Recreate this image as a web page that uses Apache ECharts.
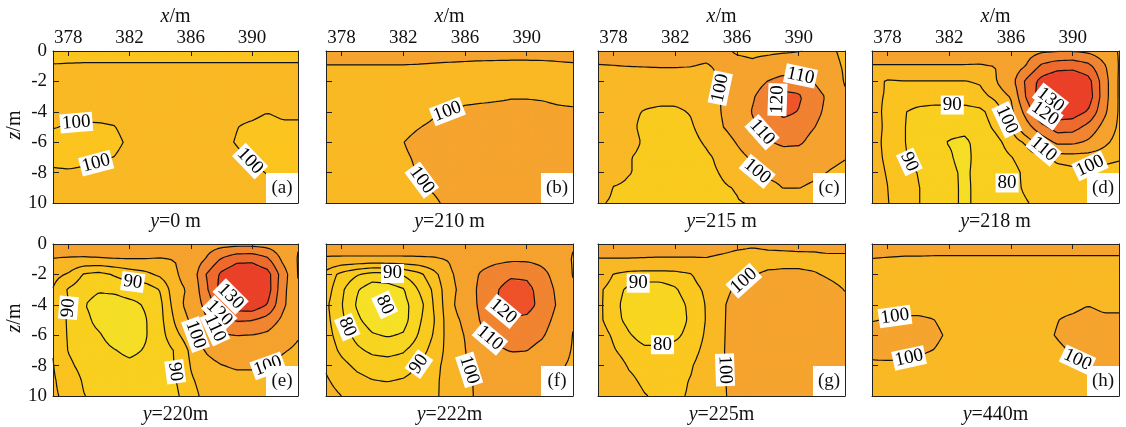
<!DOCTYPE html>
<html><head><meta charset="utf-8">
<script src="https://cdn.jsdelivr.net/npm/echarts@6/dist/echarts.min.js"></script>
<style>html,body{margin:0;padding:0;background:#fff;overflow:hidden}#chart{width:1126px;height:427px}</style>
</head><body><div id="chart"></div>
<script>
// ---------------- data (node grid: x = 377..393 step 1, z = 0..-10 step 1) ----------------
const X_NODES = [377,378,379,380,381,382,383,384,385,386,387,388,389,390,391,392,393];
const Z_NODES = [0,-1,-2,-3,-4,-5,-6,-7,-8,-9,-10];
const TICKS_X = [378,382,386,390];

const fieldA = [
[98,98,98,98,98,98,98,98,98,98,98,98,98,98,98,98,98],
[100.35,100.5,100.6,100.6,100.6,100.6,100.6,100.6,100.6,100.6,100.6,100.6,100.6,100.6,100.6,100.6,100.6],
[101,101,101,101,101,101,101,101,101,101,101,101,101,101,101,101,101],
[101,101,101,101,101,101,101,101,101,101,101,101,101,101,101,101,101],
[101,101,101,101,101,101,101,101,101,101,101,101,101,101,100.1,100.9,100.9],
[100.2,99.7,99.5,99.6,99.9,101,101,101,101,101,101,101,100.1,99.3,98.5,99.2,99.2],
[98.5,98.5,98.5,99,99.3,100.5,101,101,101,101,101,100.8,99.8,98.8,98.5,98.5,98.5],
[99,99,99.3,99.6,100.05,101,101,101,101,101,101,101,100.6,99.7,99.0,98.8,98.8],
[100.5,100.3,100.5,100.8,101,101,101,101,101,101,101,101,101,100.5,99.9,99.4,99.2],
[101,101,101,101,101,101,101,101,101,101,101,101,101,101,100.6,100.2,99.9],
[101,101,101,101,101,101,101,101,101,101,101,101,101,101,101,100.6,100.3]];

const fieldB = [
[102,102,102,102,102,102,102,102,102,102,102,102,102,102,102,102,102],
[99.8,99.8,99.8,99.8,99.8,99.8,99.7,99.5,99.3,99.1,98.9,98.8,98.7,98.7,98.8,99.1,99.4],
[98.5,98.5,98.5,98.5,98.5,98.5,98.5,98.5,98.5,98.5,98.5,98.5,98.5,98.5,98.5,98.5,98.5],
[98.5,98.5,98.5,98.5,98.5,98.5,98.5,98.5,98.5,98.9,99.2,99.5,99.8,99.8,99.7,99.4,99.2],
[98.5,98.5,98.5,98.5,98.5,98.5,98.5,99.6,100.1,100.8,101,101,101,101,100.8,100.5,100.4],
[98.5,98.5,98.5,98.5,98.5,99.3,99.9,100.6,101.5,101.5,101.5,101.5,101.5,101.5,101.5,101.5,101.5],
[98.5,98.5,98.5,98.5,98.5,99.95,100.7,101.5,101.5,101.5,101.5,101.5,101.5,101.5,101.5,101.5,101.5],
[98.5,98.5,98.5,98.5,98.5,99.7,100.3,101,101.5,101.5,101.5,101.5,101.5,101.5,101.5,101.5,101.5],
[98.5,98.5,98.5,98.5,98.5,99.5,100.1,100.8,101.5,101.5,101.5,101.5,101.5,101.5,101.5,101.5,101.5],
[98.5,98.5,98.5,98.5,98.5,99.0,99.6,100.3,101,101.5,101.5,101.5,101.5,101.5,101.5,101.5,101.5],
[98.5,98.5,98.5,98.5,98.5,98.5,99.2,99.6,100.6,101.5,101.5,101.5,101.5,101.5,101.5,101.5,101.5]];

const fieldC = [
[101.5,101.5,101.5,101.5,101.5,101.5,101.5,101.5,101,99.5,99,99,99.3,99.8,100.6,100.8,99],
[99.8,99.9,100.05,100.2,100.3,100.3,100.1,99.6,100.8,101.5,101,102.5,104,104,103,101.5,99.5],
[97,97,96.5,96.5,97,97,97.5,98.5,100.1,103,106,110.2,114,114,109.5,104,99.5],
[96,95,94,93,92.5,92.5,94,97,100.3,104,109,115,123,121.5,114,108,101],
[97,95,92,89.5,88.5,88.5,90.5,95,100.2,104,110.5,115,123,119.5,113,107,101],
[97.5,96,92,88,86.5,87,89,93.5,99.5,103.5,108.5,113,115,114,110.3,105,101],
[98,96.5,93,89,86,86,87.5,91,96,100.5,105,109,112,111.5,107,103,100.5],
[98.5,96,90.5,88,86,85.5,86.5,88.5,92,97.5,101,104,105,105,103.5,101,100.2],
[99,95,90.5,88,86.5,86,86.5,88,90.5,94.5,99.3,101,101.5,101.5,100.8,99.8,99],
[98.5,89.5,88,87.5,87,87,87.5,88.5,89,90.5,96,98.5,100.1,100.1,99.3,98.5,98.5],
[92,88,87,87,87,87,87.5,88,88.5,89.5,90.5,93,95,96,96,96,96]];

const fieldD = [
[102.5,102.5,102.5,102.5,102.5,102.5,102.5,102.5,103,104,106,108.5,109.5,109.5,108,104,99.5],
[99.7,99.7,99.7,99.7,99.7,99.7,99.7,99.6,100.1,104,110.5,122,126,127,123,112,99.5],
[97,94.5,94.8,94.8,94.8,94.8,94.8,95.5,99.5,106,122,134,139,139,134,115,99],
[95.5,94.8,93.5,93,92.5,92.5,92.5,93.5,96,100.5,121,136,141,141,136,115,99],
[95.8,94.5,90.5,88.5,88,88,88,88.8,92.5,97.5,114,130.5,136,135,129,113,99],
[96,94.5,90.5,87.5,87,86.2,86.2,87.5,91,95,106,117,125,124,117,107,98.5],
[96,94.3,90.6,87,86,84.8,84.2,86.5,88.5,92,96,104,112,112,108.5,102,97],
[96,94.5,91,87.5,86,85.5,83.5,87,88,89.8,92,94,96,96.5,96.3,96,95.5],
[96.2,94.8,92,89.8,87,86,84.2,86.5,87.5,88.5,91,93,93.5,94,94,94,93.5],
[96.5,95.05,92.5,90.2,88,86.5,84,86.5,88,89,90.5,92,93,93.5,93.5,93.5,93],
[96.8,95.2,93,90.2,88,86.5,84,86.5,88,89,89.8,91,92,92.5,93,93,93]];

const fieldE = [
[103,103,103,103,103,103,103,103,103,104,105.5,106.5,107,107,106,103,100.5],
[99.8,99.5,99.4,99.6,99.8,99.9,99.9,99.7,100.2,104,110.5,121,127,127.5,122,108,99.5],
[96.5,94.5,89.6,88.5,90.5,92.4,93.7,96,99.3,103,120,132,138,138,134,115,99.6],
[94.8,89.5,87,85.5,86,87.5,87,90.3,98.5,100.8,118,134,140,140,135,113,101],
[94.5,90.2,85.3,83,82.5,83.5,85.5,88.8,97.5,102.5,113,127,136,137,129.5,112,102],
[94.3,89.3,86.5,83.5,82,82,84.5,88.5,95.8,100.8,109,117,121,120.5,116,108,102],
[94.5,89.5,87,85.5,83,82.5,84.5,88,93.8,98,104,109,110.2,109.8,108,103,100.5],
[94.8,89.8,87.5,86.5,85.2,84,85.3,87,90.5,96,100.5,103,104,104,102.5,100.5,99],
[95.2,91,88.5,87.5,86.5,86,86.5,88,90.2,95.2,98,99.8,100.8,100.8,100.1,98.5,97.5],
[95.5,93,89.5,88,87.5,87,87,88.5,89.8,94.5,96.5,97.5,98,98,97.5,97,96.5],
[95.6,94,90.2,88.5,88,87.5,87.5,87.5,88.8,93.8,96,96.5,97,97,96.5,96,96]];

const fieldF = [
[103,103,103,103,103,103,103,103,103,104,104.5,104.5,104.5,104,103,101.5,100.5],
[99.3,99.2,99.2,99.2,99.2,99.2,99.3,99.5,100.3,103,105,107,108.5,108.5,107,104,99.5],
[93.5,88.5,85.5,83,83.5,85.5,88.5,93.5,99.3,102,111,116,118.5,118,113,106,99.7],
[92.5,86,80.5,77,77.5,79.5,85.3,91,98.8,101.5,113,119,124,123,116,108,101],
[91,85.3,79.5,76,76,78.5,82.5,90.5,98.5,103,112,119.5,125,123.5,117,109,101],
[91.5,86,81,77.5,77,78,84,89.8,98,101,110.5,116,118.5,118,114,107,100.5],
[92,87.5,83.5,80.5,79.5,80.5,85.3,90.5,97.5,100.2,108,112.5,114,114,111,105,99.8],
[93,89,86,84,83.5,84.5,87.5,92,97,99.8,104,108.5,110.5,110.2,107,103,99.5],
[94.5,91.5,89,87.5,87,87.5,90.2,93.5,97,99.5,102,104.5,105.5,105,103.5,101,99],
[95.5,93.5,91.5,90.2,89.8,90.5,92,94,97,99,101,102.5,103,103,102,100.5,98.5],
[96.5,95,93.5,92.5,92.5,93,94,94.2,96.8,98.8,101,102,102.5,102.5,101.5,99.9,98]];

const fieldG = [
[102.5,102.5,102.5,102.5,102.5,102.5,102.5,102.5,102,101,100.5,100.8,100.8,101,101.3,102.5,102.5],
[99.8,99.8,99.8,99.7,99.6,99.6,99.6,99.7,99,98.5,98.5,98.8,99,99,98.8,98.5,98.5],
[96,89.8,87.5,87,87,87.5,89.5,94,97,99,99.8,100.5,100.6,100.6,100.3,99.5,98.8],
[91.5,87,84,83,83,84.5,87.5,91,98.5,100.8,101,102,102.5,102.5,102,101,99.9],
[91.5,86.5,83,81.5,81.5,83,86,90.3,99.2,102,102,103,103,103,102.5,101.5,100.6],
[91.5,86.8,83.5,81,81,82.5,85.8,90.2,99.3,102,102.5,103,103,103,102.5,102,101.5],
[93,89.2,85.5,83,83,84,86.5,90.7,99.4,102,102.5,102.5,102.5,102.5,102.5,102,101.5],
[95,90.5,87.5,86,86,86.5,88,91.5,99.5,102,102,102,102,102,102,102,101.5],
[96.5,93,89.5,88,88,88.5,89.5,92.5,99.6,101.5,102,102,102,102,102,102,101.5],
[97.5,95,91.2,89,88.5,89,90.2,93,99.6,101,101.5,101.5,101.5,101.5,101.5,101.5,101.5],
[98,96,92.5,90.3,89,89.5,90.3,94,99.5,101,101,101,101,101,101,101,101]];

const fieldH = [
[102,102,102,102,102,102,102,102,102,102,102,102,102,102,102,102,102],
[99.9,99.7,99.5,99.5,99.4,99.4,99.4,99.4,99.4,99.4,99.4,99.4,99.4,99.4,99.4,99.4,99.4],
[99,99,99,99,99,99,99,99,99,99,99,99,99,99,99,99,99],
[99,99,99,99,99,99,99,99,99,99,99,99,99,99,99,99,99],
[99,99,99,99,99,99,99,99,99,99,99,99,99,99,99.9,99.1,99.1],
[99.8,100.2,100.4,100.4,100.05,99,99,99,99,99,99,99,99.9,100.7,101.5,100.8,100.8],
[101.5,101.5,101.5,101,100.7,99.5,99,99,99,99,99,99.2,100.2,101.2,101.5,101.5,101.5],
[100.8,101,100.7,100.4,99.95,99,99,99,99,99,99,99,99.4,100.3,101,101.2,101.2],
[99.5,99.5,99.5,99.3,99,99,99,99,99,99,99,99,99,99.5,100.1,100.6,100.8],
[99,99,99,99,99,99,99,99,99,99,99,99,99,99,99.4,99.8,100.1],
[99,99,99,99,99,99,99,99,99,99,99,99,99,99,99,99.4,99.7]];

// contour levels per panel
const levelsA = [100], levelsB = [100], levelsH = [100];
const levelsC = [90,100,110,120];
const levelsD = [85,90,95,100,110,120,130];
const levelsE = [85,90,95,100,110,120,130];
const levelsF = [80,85,90,95,100,110,120];
const levelsG = [85,90,100];

// contour label texts and their approximate places (x in m, z in m, optional rotation in degrees)
const labelsA = [{t:'100',x:378.5,z:-4.5},{t:'100',x:379.8,z:-7.3},{t:'100',x:389.7,z:-7.4}];
const labelsB = [{t:'100',x:384.9,z:-4.1},{t:'100',x:383.2,z:-8.5}];
const labelsC = [{t:'100',x:385.0,z:-2.45,rot:78},{t:'110',x:390.1,z:-1.7},{t:'120',x:388.4,z:-3.2,rot:88},{t:'110',x:387.3,z:-5.64},{t:'100',x:387.2,z:-8.05}];
const labelsD = [{t:'90',x:382.2,z:-3.42},{t:'90',x:379.7,z:-7.15},{t:'80',x:385.75,z:-8.68,rot:0},{t:'100',x:385.96,z:-4.41,rot:-65},{t:'130',x:388.56,z:-3.22,rot:-38},{t:'120',x:388.12,z:-4.32,rot:-35},{t:'110',x:388.2,z:-6.3,rot:-40},{t:'100',x:391.1,z:-7.17,rot:25}];
const labelsE = [{t:'90',x:382.2,z:-2.6},{t:'90',x:378.2,z:-4.24},{t:'90',x:385.1,z:-8.38},{t:'130',x:388.6,z:-3.45,rot:-45},{t:'120',x:388.0,z:-4.43,rot:-45},{t:'110',x:387.7,z:-5.4,rot:-65},{t:'100',x:386.5,z:-5.85,rot:-70},{t:'100',x:390.9,z:-7.8,rot:20}];
const labelsF = [{t:'90',x:381.3,z:-2.02,rot:0},{t:'80',x:380.8,z:-4.0,rot:-65},{t:'80',x:378.3,z:-5.5},{t:'90',x:382.9,z:-7.8,rot:55},{t:'100',x:386.05,z:-8.35,rot:-72},{t:'120',x:388.2,z:-4.76,rot:-40},{t:'110',x:387.4,z:-6.4,rot:-40}];
const labelsG = [{t:'90',x:379.6,z:-2.57,rot:0},{t:'80',x:381.2,z:-6.74,rot:0},{t:'100',x:386.5,z:-2.57,rot:42},{t:'100',x:385.3,z:-8.28,rot:-88}];
const labelsH = [{t:'100',x:378.5,z:-4.86},{t:'100',x:379.4,z:-7.48},{t:'100',x:390.5,z:-7.37,rot:-25}];

// colour bands per panel
const colorsA = [{lt:100,color:'#FCC41F'},{gte:100,color:'#F9B925'}];
const colorsB = [{lt:100,color:'#F9B925'},{gte:100,color:'#F5A42F'}];
const colorsH = [{lt:100,color:'#F9B925'},{gte:100,color:'#F5A42F'}];
const colorsC = [{lt:90,color:'#F9CB1F'},{gte:90,lt:100,color:'#F9B826'},{gte:100,lt:110,color:'#F5A32F'},{gte:110,lt:120,color:'#F08232'},{gte:120,color:'#EE5529'}];
const colorsD = [{lt:85,color:'#F5DE26'},{gte:85,lt:90,color:'#F9CF20'},{gte:90,lt:95,color:'#FAC320'},{gte:95,lt:100,color:'#F9B726'},{gte:100,lt:110,color:'#F5A22E'},{gte:110,lt:120,color:'#F18531'},{gte:120,lt:130,color:'#EE6A2D'},{gte:130,color:'#EA4129'}];
const colorsE = colorsD;
const colorsF = [{lt:80,color:'#F6E127'},{gte:80,lt:85,color:'#F8D521'},{gte:85,lt:90,color:'#F9CB1F'},{gte:90,lt:95,color:'#FAC021'},{gte:95,lt:100,color:'#F8B426'},{gte:100,lt:110,color:'#F5A22E'},{gte:110,lt:120,color:'#F18431'},{gte:120,color:'#EE5229'}];
const colorsG = [{lt:85,color:'#F8D621'},{gte:85,lt:90,color:'#FAC820'},{gte:90,lt:100,color:'#F9B925'},{gte:100,color:'#F5A42F'}];

const panelTitles = ['{i|y}=0 m','{i|y}=210 m','{i|y}=215 m','{i|y}=218 m','{i|y}=220m','{i|y}=222m','{i|y}=225m','{i|y}=440m'];
const panelTags = ['(a)','(b)','(c)','(d)','(e)','(f)','(g)','(h)'];

// ---------------- layout ----------------
const GRID_LEFT = [53, 326, 598, 872];
const GRID_W = [245, 247, 247, 247];
const GRID_TOP = [51, 244];
const GRID_H = 152;
const FONT = '"Liberation Serif","Times New Roman",serif';

const PANELS = [
  {field:fieldA, levels:levelsA, labels:labelsA, colors:colorsA},
  {field:fieldB, levels:levelsB, labels:labelsB, colors:colorsB},
  {field:fieldC, levels:levelsC, labels:labelsC, colors:colorsC},
  {field:fieldD, levels:levelsD, labels:labelsD, colors:colorsD},
  {field:fieldE, levels:levelsE, labels:labelsE, colors:colorsE},
  {field:fieldF, levels:levelsF, labels:labelsF, colors:colorsF},
  {field:fieldG, levels:levelsG, labels:labelsG, colors:colorsG},
  {field:fieldH, levels:levelsH, labels:labelsH, colors:colorsH}
];

// ---------------- contouring helpers ----------------
const X0 = X_NODES[0], X1 = X_NODES[X_NODES.length-1];
const ZTOP = Z_NODES[0], ZBOT = Z_NODES[Z_NODES.length-1];
const NX = 128, NZ = 80;
const DX = (X1 - X0) / NX, DZ = (ZTOP - ZBOT) / NZ;
const CATS_X = Array.from({length:NX}, (_, i) => i);
const CATS_Z = Array.from({length:NZ}, (_, j) => j);

function sample(F, x, z) {
  const c = (x - X0) / (X_NODES[1] - X_NODES[0]);
  const r = (ZTOP - z) / (Z_NODES[0] - Z_NODES[1]);
  const i0 = Math.min(Math.max(Math.floor(c), 0), X_NODES.length - 2);
  const j0 = Math.min(Math.max(Math.floor(r), 0), Z_NODES.length - 2);
  const tx = c - i0, tz = r - j0;
  return (1-tx)*(1-tz)*F[j0][i0] + tx*(1-tz)*F[j0][i0+1] + (1-tx)*tz*F[j0+1][i0] + tx*tz*F[j0+1][i0+1];
}

// fill cells (cell centres in metres) coloured by visualMap
function cellData(F) {
  const out = [];
  for (let j = 0; j < NZ; j++) for (let i = 0; i < NX; i++) {
    const x = X0 + (i + 0.5) * DX, z = ZBOT + (j + 0.5) * DZ;
    out.push([x, z, sample(F, x, z)]);
  }
  return out;
}

function nodeValues(F) {
  const V = [];
  for (let j = 0; j <= NZ; j++) {
    const row = [];
    for (let i = 0; i <= NX; i++) row.push(sample(F, X0 + i * DX, ZBOT + j * DZ));
    V.push(row);
  }
  return V;
}

const CASES = {1:[['L','B']],2:[['B','R']],3:[['L','R']],4:[['R','T']],6:[['B','T']],7:[['L','T']],
  8:[['T','L']],9:[['B','T']],11:[['R','T']],12:[['L','R']],13:[['B','R']],14:[['L','B']]};

function contour(V, level) {
  const pts = new Map(), segs = [];
  const interp = (ia, ja, va, ib, jb, vb) => {
    const t = (level - va) / (vb - va);
    return [X0 + (ia + t * (ib - ia)) * DX, ZBOT + (ja + t * (jb - ja)) * DZ];
  };
  for (let j = 0; j < NZ; j++) for (let i = 0; i < NX; i++) {
    const v00 = V[j][i], v10 = V[j][i+1], v11 = V[j+1][i+1], v01 = V[j+1][i];
    const idx = (v00 >= level ? 1 : 0) | (v10 >= level ? 2 : 0) | (v11 >= level ? 4 : 0) | (v01 >= level ? 8 : 0);
    if (idx === 0 || idx === 15) continue;
    let pairs;
    if (idx === 5 || idx === 10) {
      const c = (v00 + v10 + v11 + v01) / 4 >= level;
      pairs = (idx === 5) === c ? [['B','R'],['T','L']] : [['L','B'],['R','T']];
    } else pairs = CASES[idx];
    const edge = (e) => {
      let key;
      if (e === 'B') { key = 'h' + i + '_' + j; if (!pts.has(key)) pts.set(key, interp(i, j, v00, i+1, j, v10)); }
      else if (e === 'T') { key = 'h' + i + '_' + (j+1); if (!pts.has(key)) pts.set(key, interp(i, j+1, v01, i+1, j+1, v11)); }
      else if (e === 'L') { key = 'v' + i + '_' + j; if (!pts.has(key)) pts.set(key, interp(i, j, v00, i, j+1, v01)); }
      else { key = 'v' + (i+1) + '_' + j; if (!pts.has(key)) pts.set(key, interp(i+1, j, v10, i+1, j+1, v11)); }
      return key;
    };
    for (const pr of pairs) segs.push([edge(pr[0]), edge(pr[1])]);
  }
  const adj = new Map();
  segs.forEach((s, k) => s.forEach(e => { if (!adj.has(e)) adj.set(e, []); adj.get(e).push(k); }));
  const used = new Uint8Array(segs.length);
  const lines = [];
  const walk = (start) => {
    const seq = [];
    let cur = start;
    while (true) {
      const cand = (adj.get(cur) || []).find(k => !used[k]);
      if (cand === undefined) break;
      used[cand] = 1;
      const s = segs[cand];
      cur = s[0] === cur ? s[1] : s[0];
      seq.push(cur);
    }
    return seq;
  };
  for (let k = 0; k < segs.length; k++) {
    if (used[k]) continue;
    used[k] = 1;
    const fwd = walk(segs[k][1]);
    const bwd = walk(segs[k][0]);
    const keys = bwd.reverse().concat([segs[k][0], segs[k][1]], fwd);
    lines.push(keys.map(key => pts.get(key)));
  }
  return lines;
}

function placeLabel(lines, lab, sx, sz) {
  let best = null, bd = Infinity;
  for (const pl of lines) for (let m = 0; m < pl.length - 1; m++) {
    const ax = (pl[m][0] - lab.x) * sx, az = (pl[m][1] - lab.z) * sz;
    const bx = (pl[m+1][0] - lab.x) * sx, bz = (pl[m+1][1] - lab.z) * sz;
    const ex = bx - ax, ez = bz - az, L2 = ex*ex + ez*ez || 1e-9;
    let t = -(ax*ex + az*ez) / L2; t = Math.max(0, Math.min(1, t));
    const px = ax + t*ex, pz = az + t*ez, d = Math.hypot(px, pz);
    if (d < bd) { bd = d; best = {pl, m, t}; }
  }
  let x = lab.x, z = lab.z, rot = lab.rot !== undefined ? lab.rot : 0;
  if (best) {
    const {pl, m, t} = best;
    if (bd < 8) {
      x = pl[m][0] + t * (pl[m+1][0] - pl[m][0]);
      z = pl[m][1] + t * (pl[m+1][1] - pl[m][1]);
    }
    if (lab.rot === undefined) {
      const a = pl[Math.max(0, m - 4)], b = pl[Math.min(pl.length - 1, m + 5)];
      let ang = Math.atan2((b[1] - a[1]) * sz, (b[0] - a[0]) * sx) * 180 / Math.PI;
      if (ang > 90) ang -= 180;
      if (ang <= -90) ang += 180;
      rot = ang;
    }
  }
  return {value: [x, z], label: {formatter: lab.t, rotate: rot}};
}

// ---------------- option ----------------
const option = {animation: false, backgroundColor: '#fff', grid: [], xAxis: [], yAxis: [], series: [], visualMap: [], graphic: {elements: []}};
const AX = '#222';

function renderCell(params, api) {
  const x = api.value(0), z = api.value(1);
  const p0 = api.coord([x - DX / 2, z + DZ / 2]);
  const p1 = api.coord([x + DX / 2, z - DZ / 2]);
  return {type: 'rect', shape: {x: p0[0] - 0.5, y: p0[1] - 0.5, width: p1[0] - p0[0] + 1, height: p1[1] - p0[1] + 1},
    style: {fill: api.visual('color'), stroke: null}};
}

PANELS.forEach((P, k) => {
  const row = Math.floor(k / 4), col = k % 4;
  const left = GRID_LEFT[col], top = GRID_TOP[row], w = GRID_W[col], h = GRID_H;
  option.grid.push({left, top, width: w, height: h});
  option.xAxis.push({type: 'value', gridIndex: k, position: 'top', min: X0, max: X1, z: 10,
    axisLine: {show: true, onZero: false, lineStyle: {color: AX, width: 1}},
    axisTick: {show: true, inside: true, length: 5, customValues: TICKS_X, lineStyle: {color: AX}},
    axisLabel: {show: row === 0, customValues: TICKS_X, margin: 3, color: '#111', fontFamily: FONT, fontSize: 19},
    splitLine: {show: false}});
  option.xAxis.push({type: 'category', gridIndex: k, position: 'bottom', data: CATS_X, z: 10,
    axisLine: {show: true, onZero: false, lineStyle: {color: AX, width: 1}},
    axisTick: {show: false}, axisLabel: {show: false}, splitLine: {show: false}});
  option.yAxis.push({type: 'value', gridIndex: k, position: 'left', min: ZBOT, max: ZTOP, interval: 2, z: 10,
    axisLine: {show: true, onZero: false, lineStyle: {color: AX, width: 1}},
    axisTick: {show: true, inside: true, length: 6, lineStyle: {color: AX}},
    axisLabel: {show: col === 0, margin: 6, color: '#111', fontFamily: FONT, fontSize: 19,
      formatter: v => (v === -10 ? '10' : String(v))},
    splitLine: {show: false}});
  option.yAxis.push({type: 'category', gridIndex: k, position: 'right', data: CATS_Z, z: 10,
    axisLine: {show: true, onZero: false, lineStyle: {color: AX, width: 1}},
    axisTick: {show: false}, axisLabel: {show: false}, splitLine: {show: false}});

  const fillIndex = option.series.length;
  option.series.push({type: 'custom', xAxisIndex: 2*k, yAxisIndex: 2*k, data: cellData(P.field),
    encode: {x: 0, y: 1}, renderItem: renderCell, clip: true, progressive: 0, silent: true, z: 1});
  option.visualMap.push({type: 'piecewise', show: false, seriesIndex: fillIndex, dimension: 2, pieces: P.colors});

  const V = nodeValues(P.field);
  let allLines = [];
  P.levels.forEach(L => { allLines = allLines.concat(contour(V, L)); });
  const lineData = [];
  allLines.forEach(pl => { pl.forEach(p => lineData.push(p)); lineData.push(['-', '-']); });
  option.series.push({type: 'line', xAxisIndex: 2*k, yAxisIndex: 2*k, data: lineData, showSymbol: false, symbol: 'none',
    connectNulls: false, silent: true, z: 3, lineStyle: {color: '#111', width: 1.2}});

  const sx = w / (X1 - X0), sz = h / (ZTOP - ZBOT);
  option.series.push({type: 'scatter', xAxisIndex: 2*k, yAxisIndex: 2*k, symbolSize: 1, silent: true, z: 5,
    itemStyle: {color: 'rgba(0,0,0,0)', opacity: 1},
    label: {show: true, position: 'inside', color: '#000', opacity: 1, fontFamily: FONT, fontSize: 19, lineHeight: 19,
      backgroundColor: '#fff', padding: [0, 2]},
    data: P.labels.map(l => placeLabel(allLines, l, sx, sz))});

  const cx = left + w / 2;
  if (row === 0) {
    option.graphic.elements.push({type: 'text', x: cx, y: 17, z: 100, silent: true,
      style: {text: '{i|x}/m', fontFamily: FONT, fontSize: 20, fill: '#111', align: 'center', verticalAlign: 'middle',
        rich: {i: {fontStyle: 'italic', fontFamily: FONT, fontSize: 20, fill: '#111'}}}});
  }
  if (col === 0) {
    option.graphic.elements.push({type: 'text', x: 15, y: top + h / 2 - 2, rotation: Math.PI / 2, z: 100, silent: true,
      style: {text: '{i|z}/m', fontFamily: FONT, fontSize: 20, fill: '#111', align: 'center', verticalAlign: 'middle',
        rich: {i: {fontStyle: 'italic', fontFamily: FONT, fontSize: 20, fill: '#111'}}}});
  }
  option.graphic.elements.push({type: 'text', x: cx, y: top + h + 19, z: 100, silent: true,
    style: {text: panelTitles[k], fontFamily: FONT, fontSize: 20, fill: '#111', align: 'center', verticalAlign: 'middle',
      rich: {i: {fontStyle: 'italic', fontFamily: FONT, fontSize: 20, fill: '#111'}}}});
  option.graphic.elements.push({type: 'rect', x: left + w - 32, y: top + h - 30, z: 100, silent: true,
    shape: {width: 32, height: 30}, style: {fill: '#fff'}});
  option.graphic.elements.push({type: 'text', x: left + w - 16, y: top + h - 15, z: 101, silent: true,
    style: {text: panelTags[k], fontFamily: FONT, fontSize: 19, fill: '#111', align: 'center', verticalAlign: 'middle'}});
});

const chart = echarts.init(document.getElementById('chart'), null, {renderer: 'canvas'});
chart.setOption(option);
</script>
</body></html>
